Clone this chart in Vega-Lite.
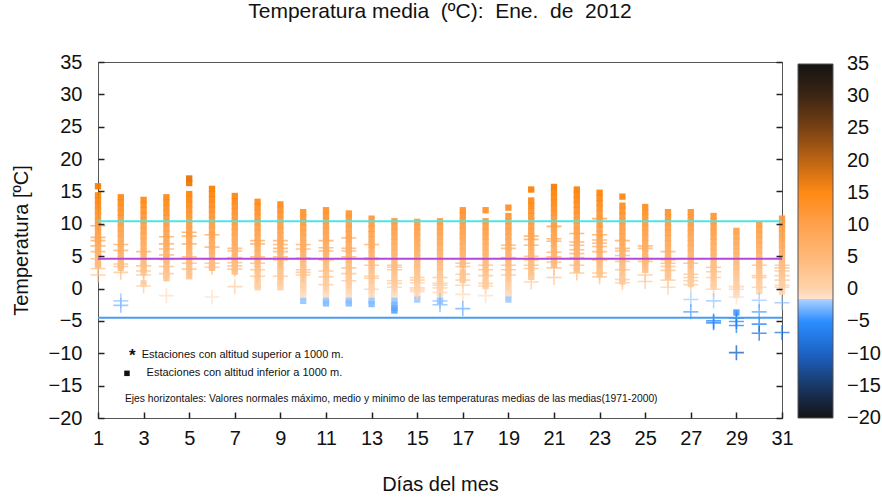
{
  "$schema": "https://vega.github.io/schema/vega-lite/v6.json",
  "width": 684,
  "height": 356,
  "autosize": {"type": "none"},
  "padding": {"left": 98, "top": 62, "right": 100, "bottom": 79},
  "background": "white",
  "config": {
    "font": "Liberation Sans",
    "view": {"stroke": "#555", "strokeWidth": 1}
  },
  "title": {"text": "Temperatura media\u00a0 (ºC):\u00a0 Ene.\u00a0 de\u00a0 2012", "fontSize": 21, "fontWeight": "normal", "offset": 30, "color": "#111", "anchor": "middle", "frame": "group"},
  "datasets": {
    "days": [
      {"d": 1, "s": [15.8,14.4,13.6,12.8,12.0,11.2,10.4,9.6,8.8,8.0,7.6,7.2,6.4,5.6,4.8,4.0,3.6], "p": [9.7,7.9,7.4,6.6,5.7,4.6,3.1,2.1]},
      {"d": 2, "s": [14.1,13.3,12.5,11.7,10.9,10.1,9.3,8.5,7.7,6.9,6.1,5.3,4.5,3.7,3.2], "p": [6.8,5.9,3.8,3.4,2.5,-1.9,-2.6]},
      {"d": 3, "s": [13.7,12.9,12.1,11.3,10.5,9.7,8.9,8.1,7.3,6.5,5.7,4.9,4.1,3.3,2.5,0.8], "p": [5.7,4.6,3.5,2.7,2.1,0.4]},
      {"d": 4, "s": [14.1,13.3,12.5,11.7,10.9,10.1,9.3,8.5,7.7,6.9,6.1,5.3,4.5,3.7,2.9,2.1,1.6], "p": [8.0,6.9,6.1,5.2,4.5,3.4,2.3,-1.1]},
      {"d": 5, "s": [17.0,16.3,14.6,13.8,13.0,12.2,11.4,10.6,9.8,9.0,8.2,7.4,6.6,5.8,5.0,4.2,3.4,2.6,1.9], "p": [8.7,8.1,6.9,4.9,3.9,3.0]},
      {"d": 6, "s": [15.4,14.6,13.8,13.0,12.2,11.4,10.6,9.8,9.0,8.2,7.4,6.6,5.8,5.0,4.2,3.4,3.2], "p": [8.3,6.4,4.6,3.9,3.3,-1.3]},
      {"d": 7, "s": [14.3,13.5,12.7,11.9,11.1,10.3,9.5,8.7,7.9,7.1,6.3,5.5,4.7,3.9,3.1,2.6], "p": [6.2,5.8,4.8,4.0,3.5,3.0,0.3]},
      {"d": 8, "s": [13.4,12.6,11.8,11.0,10.2,9.4,8.6,7.8,7.0,6.2,5.4,4.6,3.8,3.0,2.2,1.4,0.6,0.2], "p": [7.4,6.9,4.9,3.9,2.9,1.9]},
      {"d": 9, "s": [13.0,12.2,11.4,10.6,9.8,9.0,8.2,7.4,6.6,5.8,5.0,4.2,3.4,2.6,1.8,1.0,0.2], "p": [7.4,6.8,6.2,5.7,4.9,4.4,1.9]},
      {"d": 10, "s": [11.8,11.0,10.2,9.4,8.6,7.8,7.0,6.2,5.4,4.6,3.8,3.0,2.2,1.4,0.6,-0.2,-0.9,-1.9], "p": [6.8,6.1,4.7,2.9,2.5,2.1]},
      {"d": 11, "s": [12.1,11.3,10.5,9.7,8.9,8.1,7.3,6.5,5.7,4.9,4.1,3.3,2.5,1.7,0.9,0.1,-0.6,-1.0,-1.9,-2.3], "p": [7.4,6.3,5.8,4.4,2.7,1.8,0.6]},
      {"d": 12, "s": [11.6,10.8,10.0,9.2,8.4,7.6,6.8,6.0,5.2,4.4,3.6,2.8,2.0,1.2,0.4,-0.4,-1.0,-1.9,-2.3], "p": [7.8,6.2,5.8,4.9,3.2,2.3,1.2]},
      {"d": 13, "s": [10.8,10.0,9.2,8.4,7.6,6.8,6.0,5.2,4.4,3.6,2.8,2.0,1.2,0.4,-0.4,-1.0,-1.9,-2.4], "p": [6.8,4.7,4.5,3.6,1.9,1.6,-0.1]},
      {"d": 14, "s": [10.4,9.6,8.8,8.0,7.2,6.4,5.6,4.8,4.0,3.2,2.4,1.6,0.8,0.0,-0.7,-1.1,-1.9,-2.5,-3.0,-3.4], "p": [3.6,3.3,2.9,1.2,0.8,0.2]},
      {"d": 15, "s": [10.3,9.5,8.7,7.9,7.1,6.3,5.5,4.7,3.9,3.1,2.3,1.5,0.7,-0.1,-0.8,-1.1,-1.7], "p": [1.7,1.3,0.9,0.1,-0.2,-0.5]},
      {"d": 16, "s": [10.4,9.6,8.8,8.0,7.2,6.4,5.6,4.8,4.0,3.2,2.4,1.6,0.8,0.0,-0.7,-1.1,-1.9], "p": [1.7,0.8,0.5,0.1,-0.6,-1.9,-2.5]},
      {"d": 17, "s": [12.1,11.3,10.5,9.7,8.9,8.1,7.3,6.5,5.7,4.9,4.1,3.6,2.5,1.8,1.3], "p": [3.9,3.4,2.2,1.3,0.5,-0.9,-3.1]},
      {"d": 18, "s": [12.1,10.4,9.6,8.8,8.0,7.2,6.4,5.6,4.8,4.0,3.2,2.4,1.6,0.8,0.4], "p": [3.6,2.9,2.0,0.8,0.4,-1.1]},
      {"d": 19, "s": [12.5,11.2,10.4,9.6,8.8,8.0,7.2,6.4,5.6,4.8,4.0,3.2,2.4,1.6,0.8,0.0,-0.7,-1.0,-1.7], "p": [6.7,6.2,4.8,3.6,2.9,2.1]},
      {"d": 20, "s": [15.3,13.6,12.8,12.0,11.2,10.4,9.6,8.8,8.0,7.2,6.4,5.6,4.8,4.0,3.2,2.4,1.8], "p": [8.1,7.6,6.7,5.0,4.4,3.6,3.1,1.0]},
      {"d": 21, "s": [15.7,14.9,14.1,13.3,12.5,11.7,10.9,10.1,9.3,8.5,7.7,6.9,6.1,5.3,4.5,3.7], "p": [9.6,7.7,7.3,5.6,4.9,4.1,3.2,1.7]},
      {"d": 22, "s": [15.3,14.5,13.7,12.9,12.1,11.3,10.5,9.7,8.9,8.1,7.3,6.5,5.7,4.9,4.1,3.3,2.9], "p": [8.5,7.2,6.7,6.0,5.4,4.8,3.6,2.4]},
      {"d": 23, "s": [14.8,14.0,13.2,12.4,11.6,10.8,10.0,9.2,8.4,7.6,6.8,6.0,5.2,4.4,3.6,2.8,2.2], "p": [10.8,8.3,7.5,7.0,6.5,5.7,4.4,2.4,1.8]},
      {"d": 24, "s": [14.2,12.8,12.0,11.2,10.4,9.6,8.8,8.0,7.2,6.4,5.6,4.8,4.0,3.2,2.4,1.6,1.1], "p": [7.4,6.2,5.8,5.1,4.2,2.9,1.4,0.9]},
      {"d": 25, "s": [12.6,11.8,11.0,10.2,9.4,8.6,7.8,7.0,6.2,5.4,4.6,4.4,4.2,3.6,2.9], "p": [6.6,6.2,4.6,4.2,2.1,1.1]},
      {"d": 26, "s": [11.8,11.0,10.2,9.4,8.6,7.8,7.0,6.2,5.4,4.6,4.4,3.8,3.0,2.2,1.8], "p": [5.7,4.4,3.9,3.4,2.8,1.3,0.2]},
      {"d": 27, "s": [11.8,11.0,10.2,9.4,8.6,7.8,7.0,6.2,5.4,4.6,3.8,3.0,2.2,1.4,0.7], "p": [3.9,2.2,1.7,1.2,0.6,-1.7,-3.6]},
      {"d": 28, "s": [11.2,10.4,9.6,8.8,8.0,7.2,6.4,5.6,4.8,4.0,3.2,2.4,1.6,0.8,0.3], "p": [3.3,2.6,1.7,-0.1,-1.9,-5.0,-5.3]},
      {"d": 29, "s": [8.9,8.1,7.3,6.5,5.7,4.9,4.1,3.3,2.5,1.7,0.9,0.1,-0.6,-1.0,-3.7], "p": [0.3,-0.1,-1.3,-4.6,-5.1,-5.7,-9.9]},
      {"d": 30, "s": [9.9,9.1,8.3,7.5,6.7,5.9,5.1,4.3,3.5,2.7,1.9,1.1,0.3,-0.4], "p": [3.6,2.0,1.7,0.2,-1.8,-3.6,-5.5,-6.9]},
      {"d": 31, "s": [10.8,10.0,9.2,8.4,7.6,6.8,6.0,5.2,4.4,3.6,2.8,2.0,1.2,0.4,-0.5], "p": [3.6,3.2,2.7,2.0,1.3,0.5,0.2,-2.2,-6.8]}
    ]
  },
  "layer": [
    {
      "data": {"name": "days"},
      "transform": [{"flatten": ["s"]}],
      "mark": {"type": "point", "shape": "square", "filled": true, "size": 40, "opacity": 0.92, "strokeWidth": 0},
      "encoding": {
        "x": {"field": "d", "type": "quantitative", "scale": {"domain": [1, 31], "nice": false, "zero": false},
          "axis": {"values": [1,3,5,7,9,11,13,15,17,19,21,23,25,27,29,31], "title": "Días del mes", "labelFlush": false, "offset": -6, "ticks": true, "tickSize": 6, "labelPadding": 10, "titlePadding": 26, "grid": false, "domain": false, "zindex": 1, "tickColor": "#222", "tickWidth": 1.5, "labelFontSize": 20, "titleFontSize": 20, "titleFontWeight": "normal", "labelColor": "#111", "titleColor": "#111"}},
        "y": {"field": "s", "type": "quantitative", "scale": {"domain": [-20, 35], "nice": false, "zero": false},
          "axis": {"orient": "left", "values": [-20,-15,-10,-5,0,5,10,15,20,25,30,35], "title": "Temperatura [ºC]", "labelFlush": false, "offset": -6, "ticks": true, "tickSize": 6, "labelPadding": 16, "titlePadding": 17, "grid": false, "domain": false, "zindex": 1, "tickColor": "#222", "tickWidth": 1.5, "labelFontSize": 20, "titleFontSize": 20, "titleFontWeight": "normal", "labelColor": "#111", "titleColor": "#111"}},
        "color": {"field": "s", "type": "quantitative",
          "scale": {"type": "linear", "interpolate": "rgb", "domain": [-20,-15,-10,-5,-1.5,-1.45,0,5,10,15,20,25,30,35], "range": ["#000000","#06285a","#0a56c0","#1a84ff","#a8d0ff","#ffe2ca","#ffd0a6","#ffb36e","#ff9a3e","#ff8000","#b85800","#6e3200","#2e1400","#000000"]},
          "legend": {"type": "gradient", "direction": "vertical", "orient": "none", "legendX": 700, "legendY": 2, "gradientLength": 354, "gradientThickness": 35, "values": [-20,-15,-10,-5,0,5,10,15,20,25,30,35], "labelFontSize": 20, "labelOffset": 14, "labelColor": "#111", "labelOverlap": false, "gradientStrokeColor": "#444", "gradientStrokeWidth": 1, "title": null,
            "encoding": {
              "gradient": {"fill": {"value": {"gradient": "linear", "x1": 0, "y1": 1, "x2": 0, "y2": 0, "stops": [
                {"offset": 0, "color": "#000000"},
                {"offset": 0.0909, "color": "#06285a"},
                {"offset": 0.1818, "color": "#0a56c0"},
                {"offset": 0.2727, "color": "#1a84ff"},
                {"offset": 0.3364, "color": "#a8d0ff"},
                {"offset": 0.3373, "color": "#ffe2ca"},
                {"offset": 0.3636, "color": "#ffd0a6"},
                {"offset": 0.4545, "color": "#ffb36e"},
                {"offset": 0.5455, "color": "#ff9a3e"},
                {"offset": 0.6364, "color": "#ff8000"},
                {"offset": 0.7273, "color": "#b85800"},
                {"offset": 0.8182, "color": "#6e3200"},
                {"offset": 0.9091, "color": "#2e1400"},
                {"offset": 1, "color": "#000000"}]}}},
              "labels": {"baseline": {"value": "middle"}}}}}
      }
    },
    {
      "data": {"name": "days"},
      "transform": [{"flatten": ["p"]}],
      "mark": {"type": "point", "shape": "M-1,0H1M0,-1V1", "filled": false, "size": 225, "strokeWidth": 1.6, "opacity": 0.72},
      "encoding": {
        "x": {"field": "d", "type": "quantitative"},
        "y": {"field": "p", "type": "quantitative",
          "axis": {"orient": "right", "values": [-20,-15,-10,-5,0,5,10,15,20,25,30,35], "labels": false, "title": null, "offset": -6, "ticks": true, "tickSize": 6, "grid": false, "domain": false, "zindex": 1, "tickColor": "#222", "tickWidth": 1.5}},
        "stroke": {"field": "p", "type": "quantitative",
          "scale": {"type": "linear", "interpolate": "rgb", "domain": [-20.01,-15,-10,-5,-1.5,-1.45,0,5,10,15,20,25,30,35.01], "range": ["#000000","#06285a","#0a56c0","#1a84ff","#a8d0ff","#ffe2ca","#ffd0a6","#ffb36e","#ff9a3e","#ff8000","#b85800","#6e3200","#2e1400","#000000"]},
          "legend": null}
      }
    },
    {"data": {"values": [{}]}, "mark": {"type": "rule", "color": "#52e2e2", "strokeWidth": 2}, "encoding": {"y": {"datum": 10.4, "type": "quantitative", "axis": null}}},
    {"data": {"values": [{}]}, "mark": {"type": "rule", "color": "#b548d8", "strokeWidth": 2}, "encoding": {"y": {"datum": 4.6, "type": "quantitative", "axis": null}}},
    {"data": {"values": [{}]}, "mark": {"type": "rule", "color": "#4a9cf0", "strokeWidth": 2}, "encoding": {"y": {"datum": -4.5, "type": "quantitative", "axis": null}}},
    {"data": {"values": [{}]}, "mark": {"type": "text", "text": "*", "fontSize": 17, "fontWeight": "bold", "align": "center", "baseline": "middle", "color": "#111"},
      "encoding": {"x": {"datum": 2.5, "type": "quantitative"}, "y": {"datum": -10.4, "type": "quantitative", "axis": null}}},
    {"data": {"values": [{}]}, "mark": {"type": "text", "text": "Estaciones con altitud superior a 1000 m.", "fontSize": 11, "align": "left", "baseline": "middle", "color": "#111"},
      "encoding": {"x": {"datum": 2.92, "type": "quantitative"}, "y": {"datum": -10.3, "type": "quantitative", "axis": null}}},
    {"data": {"values": [{}]}, "mark": {"type": "point", "shape": "square", "filled": true, "size": 30, "color": "#111", "opacity": 1},
      "encoding": {"x": {"datum": 2.27, "type": "quantitative"}, "y": {"datum": -13.1, "type": "quantitative", "axis": null}}},
    {"data": {"values": [{}]}, "mark": {"type": "text", "text": "Estaciones con altitud inferior a 1000 m.", "fontSize": 11, "align": "left", "baseline": "middle", "color": "#111"},
      "encoding": {"x": {"datum": 3.13, "type": "quantitative"}, "y": {"datum": -13.1, "type": "quantitative", "axis": null}}},
    {"data": {"values": [{}]}, "mark": {"type": "text", "text": "Ejes horizontales: Valores normales máximo, medio y minimo de las temperaturas medias de las medias(1971-2000)", "fontSize": 10.3, "align": "left", "baseline": "middle", "color": "#111"},
      "encoding": {"x": {"datum": 2.18, "type": "quantitative"}, "y": {"datum": -17.1, "type": "quantitative", "axis": null}}}
  ],
  "resolve": {"axis": {"y": "independent"}}
}
